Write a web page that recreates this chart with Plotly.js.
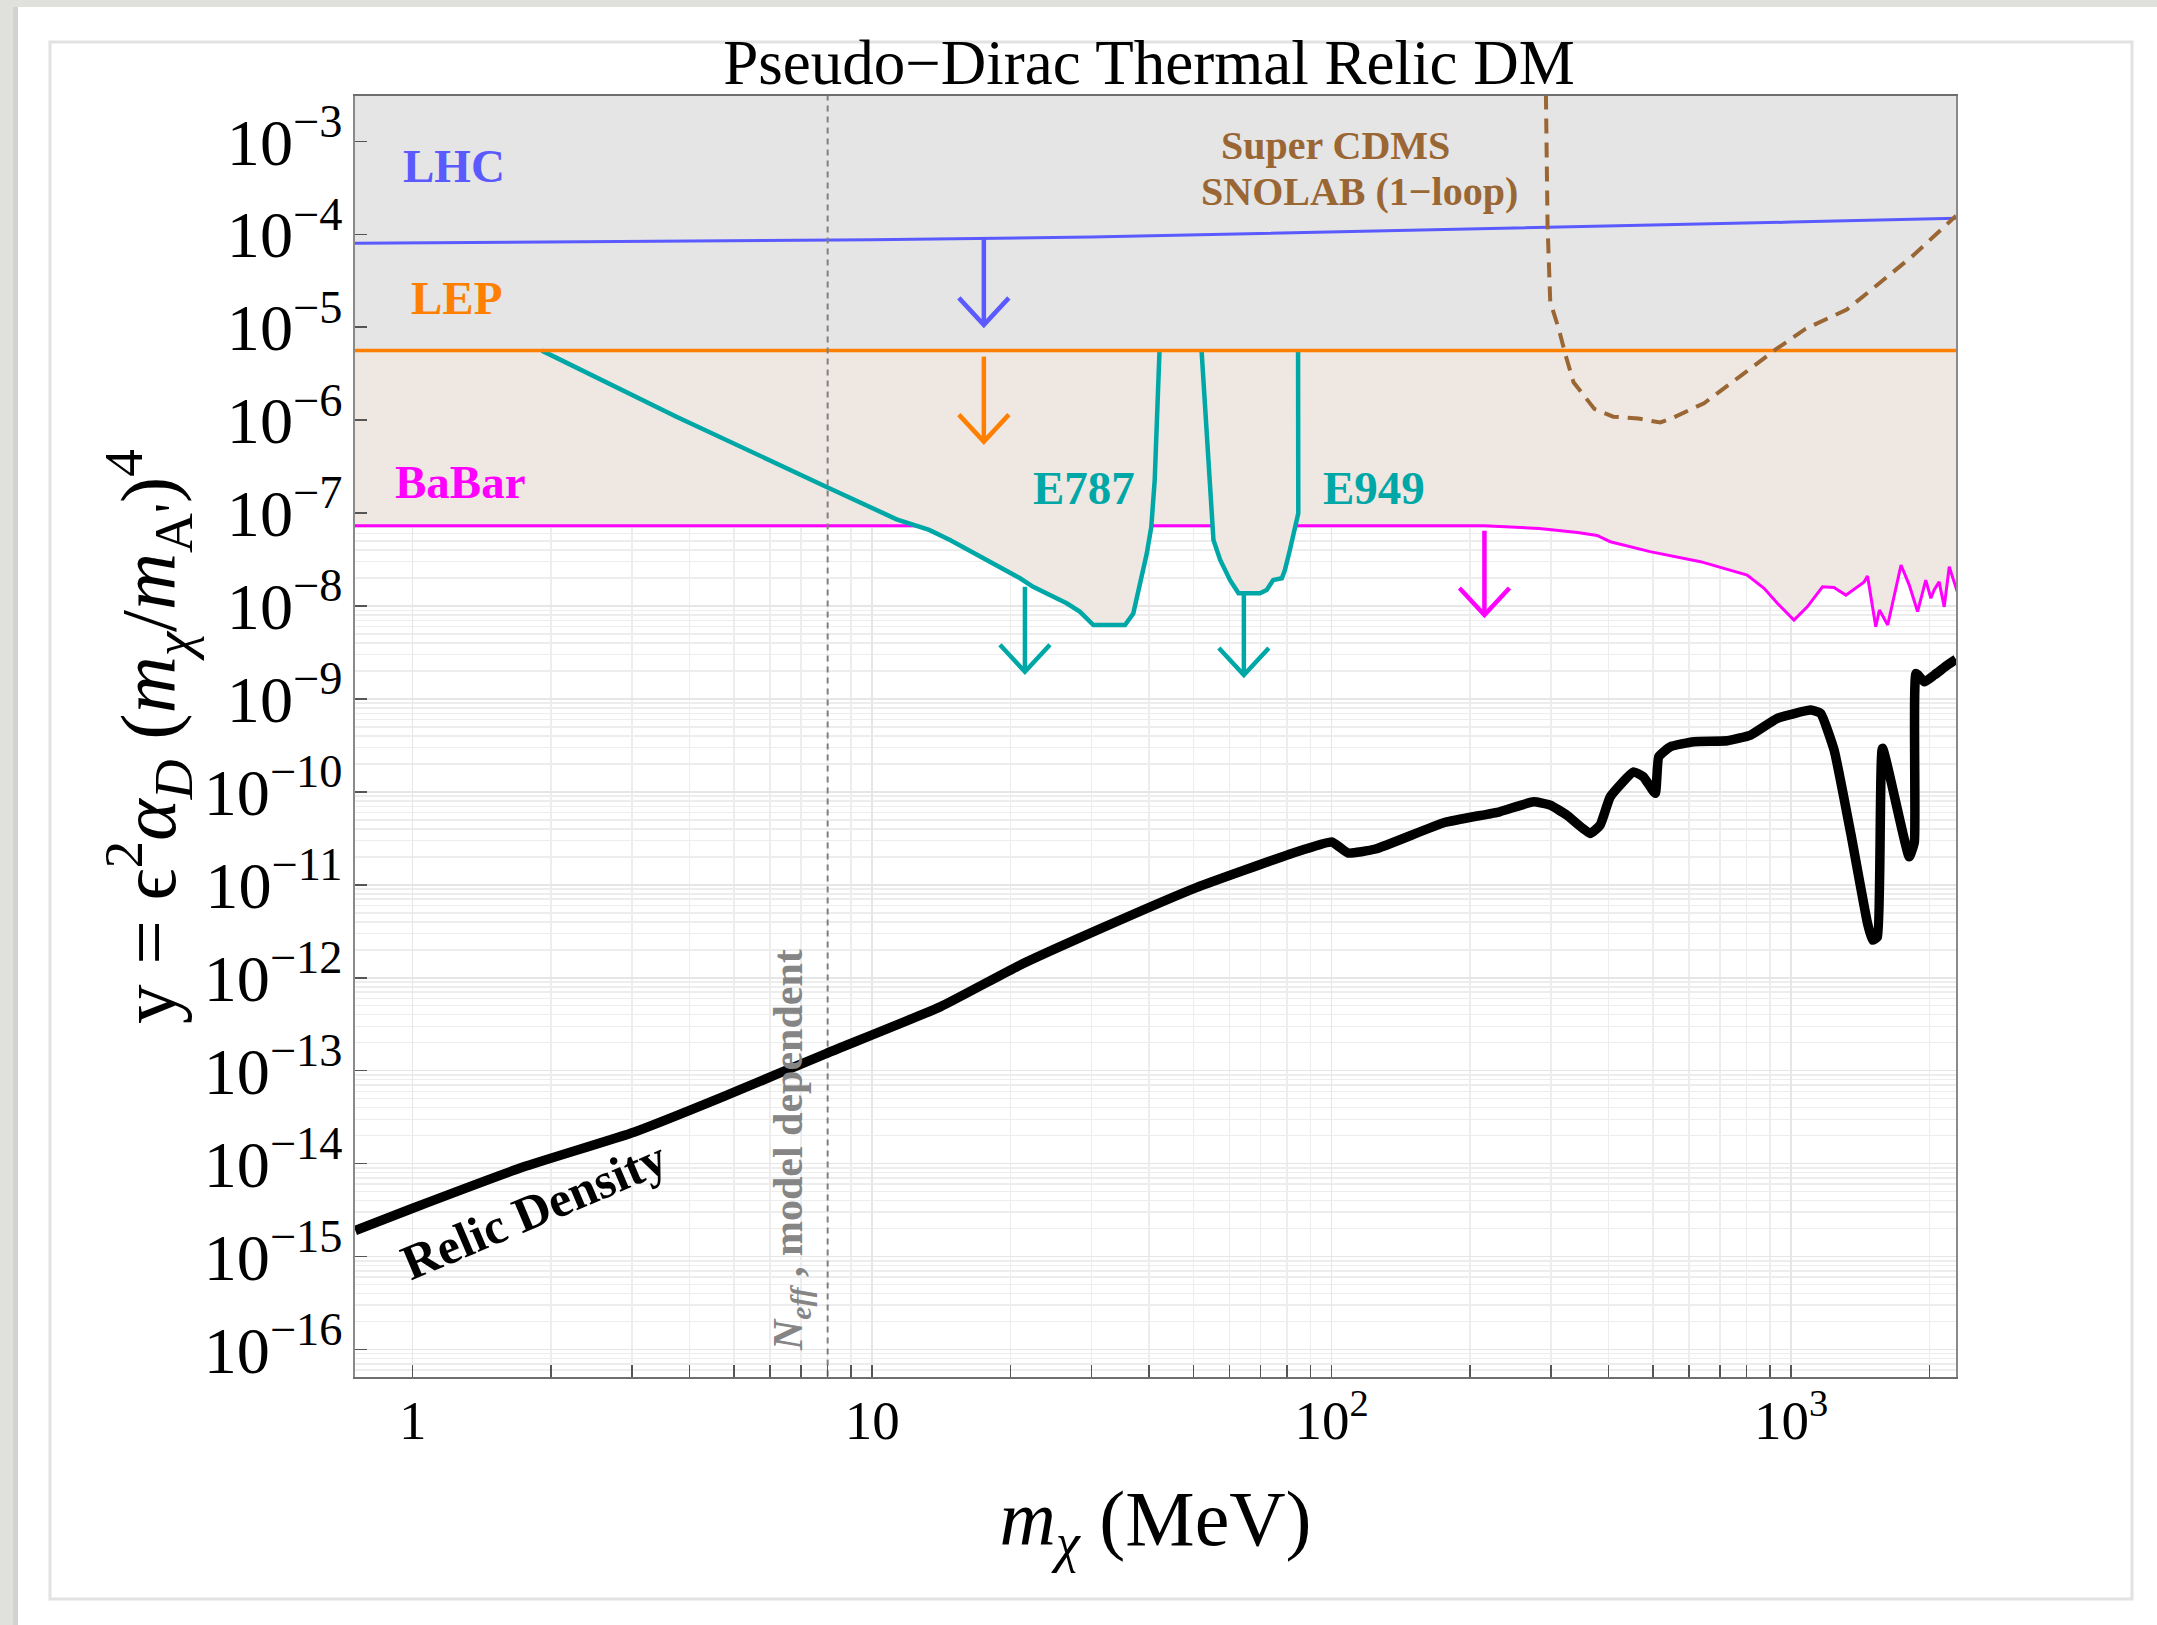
<!DOCTYPE html>
<html><head><meta charset="utf-8">
<script src="https://cdn.plot.ly/plotly-3.0.1.min.js"></script>
<style>html,body{margin:0;padding:0;background:#fff;} #chart{width:2157px;height:1625px;}</style>
</head><body><div id="chart"></div>
<script>
// ---------------- data ----------------
const lhcX = [0.7, 1, 3, 10, 30, 100, 300, 1000, 2400];
const lhcY = [8.0e-5, 8.09e-5, 8.41e-5, 8.71e-5, 9.33e-5, 1.057e-4, 1.186e-4, 1.352e-4, 1.50e-4];

const lepX = [0.7, 2400];
const lepY = [5.6e-6, 5.6e-6];

const babarX = [0.7, 215, 283, 343, 378, 404, 493, 635, 802, 873, 933, 1014, 1084, 1170, 1239, 1315, 1442, 1466, 1528, 1556, 1622, 1734, 1807, 1884, 1963, 2014, 2047, 2099, 2153, 2208, 2300];
const babarY = [7.3e-8, 7.3e-8, 6.82e-8, 6.19e-8, 5.75e-8, 4.92e-8, 3.85e-8, 3.0e-8, 2.15e-8, 1.55e-8, 1.07e-8, 7.06e-9, 9.8e-9, 1.61e-8, 1.58e-8, 1.31e-8, 1.82e-8, 2.1e-8, 5.98e-9, 9.05e-9, 6.25e-9, 2.76e-8, 1.68e-8, 8.7e-9, 1.9e-8, 1.21e-8, 1.49e-8, 1.82e-8, 9.8e-9, 2.65e-8, 1.41e-8];

const e787X = [1.91, 3.75, 7.98, 11.3, 13.3, 14.77, 20.98, 22.4, 26.5, 28.3, 30.3, 35.5, 37.0, 37.3, 38.6, 39.6, 40.5, 41.2, 42.2];
const e787Y = [5.6e-6, 1.09e-6, 1.9e-7, 8.57e-8, 6.6e-8, 5.13e-8, 1.99e-8, 1.61e-8, 1.07e-8, 8.7e-9, 6.25e-9, 6.25e-9, 8.3e-9, 9.8e-9, 2.07e-8, 3.69e-8, 7.14e-8, 2.27e-7, 5.6e-6];

const e949X = [52.1, 54.4, 55.3, 57.2, 60.1, 62.7, 69.8, 72.2, 74.6, 77.9, 79.1, 81.1, 82.5, 84.6, 84.5];
const e949Y = [5.6e-6, 2.27e-7, 5.13e-8, 3.13e-8, 1.9e-8, 1.37e-8, 1.37e-8, 1.49e-8, 1.9e-8, 1.99e-8, 2.44e-8, 4.0e-8, 5.57e-8, 9.95e-8, 5.6e-6];

const cdmsX = [292.6, 295, 299, 312, 323, 336, 373, 410, 465, 519, 548, 646, 783, 924, 1076, 1322, 1560, 1838, 2285];
const cdmsY = [3.2e-3, 1.25e-4, 1.87e-5, 9.64e-6, 4.97e-6, 2.56e-6, 1.32e-6, 1.09e-6, 1.04e-6, 9.44e-7, 1.04e-6, 1.52e-6, 3.09e-6, 5.73e-6, 9.64e-6, 1.55e-5, 3.01e-5, 5.85e-5, 1.58e-4];

const relicX = [0.75, 1, 1.745, 3.04, 4.73, 7.94, 14.06, 20.8, 31.4, 50.9, 82.5, 100, 108.6, 124.6, 176, 232, 275, 299, 325, 365, 384, 404, 454, 477, 506, 515, 546, 614, 726, 816, 933, 1103, 1159, 1240, 1348, 1466, 1503, 1541, 1580, 1807, 1854, 1870, 1950, 2049, 2191, 2285];
const relicY = [1.905e-15, 3.31e-15, 9.23e-15, 2.19e-14, 5.22e-14, 1.53e-13, 4.86e-13, 1.34e-12, 3.37e-12, 9.38e-12, 2.2e-11, 2.89e-11, 2.2e-11, 2.43e-11, 4.68e-11, 6.11e-11, 7.82e-11, 7.21e-11, 5.62e-11, 3.57e-11, 4.4e-11, 8.85e-11, 1.64e-10, 1.45e-10, 9.64e-11, 2.39e-10, 3.06e-10, 3.47e-10, 3.55e-10, 4.09e-10, 6.18e-10, 7.59e-10, 7.0e-10, 2.82e-10, 3.57e-11, 3.84e-12, 2.54e-12, 2.75e-12, 2.94e-10, 2.0e-11, 2.9e-11, 1.88e-9, 1.53e-9, 1.81e-9, 2.32e-9, 2.67e-9];

const neffMass = 8.0;   // N_eff bound (MeV)

// downward "excluded" arrows: x position, start, tip
const arrowX   = [17.5, 17.5, 21.5, 64.4, 215];
const arrowTop = [9.0e-5, 4.83e-6, 1.61e-8, 1.37e-8, 6.46e-8];
const arrowTip = [1.06e-5, 5.87e-7, 1.96e-9, 1.81e-9, 8.0e-9];

// x-axis major ticks and labels
const xTickVals = [1, 10, 100, 1000];
const xTickText = ['1', '10', '10<sup>2</sup>', '10<sup>3</sup>'];

// ---------------- styling / layout ----------------
const W = 2157, H = 1625;
const PL = 355, PR = 1956, PT = 96, PB = 1377;
const xRange = [Math.log10(0.749), Math.log10(2284)];
const yRange = [-16.296, -2.512];
const px2x = p => (p - PL) / (PR - PL);
const py2y = p => (PB - p) / (PB - PT);
const pxPerDecX = (PR - PL) / (xRange[1] - xRange[0]);
const pxPerDecY = (PB - PT) / (yRange[1] - yRange[0]);

const FONT = 'Liberation Serif, "Times New Roman", Times, serif';
const C = {lhc:'#5a5aff', lep:'#ff8000', babar:'#ff00ff', teal:'#00a7a7', cdms:'#9a6634',
           gray:'#e5e5e5', beige:'#efe7e1', neff:'#858585'};
const arrowColor = [C.lhc, C.lep, C.teal, C.teal, C.babar];

const traces = [];
const base = {type:'scatter', mode:'lines', hoverinfo:'skip', showlegend:false};
// gray excluded region (above LEP)
traces.push(Object.assign({}, base, {x:lepX, y:[1e-2, 1e-2], line:{width:0}}));
traces.push(Object.assign({}, base, {x:lepX, y:lepY, line:{width:0}, fill:'tonexty', fillcolor:C.gray}));
// beige region between LEP and BaBar, plus BaBar line
traces.push(Object.assign({}, base, {x:babarX, y:babarY, line:{width:3, color:C.babar}, fill:'tonexty', fillcolor:C.beige}));
// E787 / E949
traces.push(Object.assign({}, base, {x:e787X, y:e787Y, line:{width:4.5, color:C.teal}, fill:'toself', fillcolor:C.beige}));
traces.push(Object.assign({}, base, {x:e949X, y:e949Y, line:{width:4.5, color:C.teal}, fill:'toself', fillcolor:C.beige}));
// LHC, LEP lines
traces.push(Object.assign({}, base, {x:lhcX, y:lhcY, line:{width:3, color:C.lhc}}));
traces.push(Object.assign({}, base, {x:lepX, y:lepY, line:{width:3.5, color:C.lep}}));
// Super CDMS dashed
traces.push(Object.assign({}, base, {x:cdmsX, y:cdmsY, line:{width:4, color:C.cdms, dash:'15px,9px'}}));
// N_eff dotted line
traces.push(Object.assign({}, base, {x:[neffMass, neffMass], y:[1e-17, 1e-2], line:{width:2, color:'#808080', dash:'6px,5px'}}));
// relic density
traces.push(Object.assign({}, base, {x:relicX, y:relicY, line:{width:9.5, color:'#000', shape:'spline', smoothing:0.4}}));
// arrows
const armDx = Math.pow(10, 25 / pxPerDecX), armDy = Math.pow(10, 27 / pxPerDecY);
arrowX.forEach((ax, i) => {
  traces.push(Object.assign({}, base, {
    x:[ax, ax, null, ax / armDx, ax, ax * armDx],
    y:[arrowTop[i], arrowTip[i], null, arrowTip[i] * armDy, arrowTip[i], arrowTip[i] * armDy],
    line:{width:4.5, color:arrowColor[i]}
  }));
});

function lab(text, px, py, color, size, extra) {
  return Object.assign({text, xref:'paper', yref:'paper', x:px2x(px), y:py2y(py),
    xanchor:'center', yanchor:'middle', showarrow:false,
    font:{family:FONT, size, color, weight:'bold'}}, extra || {});
}
const annotations = [
  lab('LHC', 454, 166, C.lhc, 47),
  lab('LEP', 456, 298, C.lep, 47),
  lab('BaBar', 460, 482, C.babar, 47),
  lab('E787', 1084, 488, C.teal, 47),
  lab('E949', 1374, 488, C.teal, 47),
  lab('Super CDMS', 1335, 145, C.cdms, 40),
  lab('SNOLAB (1\u2212loop)', 1359, 192, C.cdms, 40),
  lab('Relic Density', 534, 1210, '#000', 50, {textangle:-23}),
  lab('<i>N</i><sub><i>eff</i></sub> , model dependent', 791, 1150, C.neff, 42, {textangle:-90})
];

const shapes = [
  {type:'rect', xref:'paper', yref:'paper', x0:px2x(0), x1:px2x(18), y0:py2y(H), y1:py2y(0), fillcolor:'#e0e0dc', line:{width:0}, layer:'below'},
  {type:'rect', xref:'paper', yref:'paper', x0:px2x(13), x1:px2x(18), y0:py2y(H), y1:py2y(0), fillcolor:'#d2d2ce', line:{width:0}, layer:'below'},
  {type:'rect', xref:'paper', yref:'paper', x0:px2x(0), x1:px2x(W), y0:py2y(7), y1:py2y(0), fillcolor:'#e0e0dc', line:{width:0}, layer:'below'},
  {type:'rect', xref:'paper', yref:'paper', x0:px2x(50), x1:px2x(2132), y0:py2y(1599), y1:py2y(42), fillcolor:'rgba(0,0,0,0)', line:{width:3, color:'#e2e2e2'}, layer:'below'}
];

const minorX = [];
for (let d = 0; d <= 3; d++) for (let k = 2; k <= 9; k++) { const v = k * Math.pow(10, d); if (v < 2284) minorX.push(v); }

const layout = {
  width:W, height:H,
  margin:{l:PL, r:W - PR, t:PT, b:H - PB, pad:0},
  paper_bgcolor:'#ffffff', plot_bgcolor:'#ffffff',
  font:{family:FONT, color:'#000'},
  title:{text:'Pseudo\u2212Dirac Thermal Relic DM', font:{family:FONT, size:63, color:'#000'},
         x:1149 / W, xanchor:'center', xref:'container', y:1 - 62 / H, yanchor:'middle', yref:'container'},
  xaxis:{type:'log', range:xRange, tickmode:'array', tickvals:xTickVals, ticktext:xTickText, automargin:false,
         showline:true, mirror:true, linecolor:'#6e6e6e', linewidth:2,
         ticks:'inside', ticklen:12, tickwidth:1.5, tickcolor:'#555', ticklabelstandoff:-6,
         showgrid:true, gridcolor:'#e6e6e6', gridwidth:1.5, zeroline:false,
         tickfont:{family:FONT, size:55, color:'#000'},
         minor:{tickvals:minorX, ticks:'inside', ticklen:12, tickwidth:1.5, tickcolor:'#555', showgrid:true, gridcolor:'#ededed', gridwidth:1.5},
         title:{text:'<i>m</i><sub><i>\u03c7</i></sub> (MeV)', font:{family:FONT, size:78, color:'#000'}, standoff:40}},
  yaxis:{type:'log', range:yRange, dtick:1, exponentformat:'power', automargin:false,
         showline:true, mirror:true, linecolor:'#8a8a8a', linewidth:2,
         ticks:'inside', ticklen:12, tickwidth:1.5, tickcolor:'#555',
         showgrid:true, gridcolor:'#e6e6e6', gridwidth:1.5, zeroline:false,
         tickfont:{family:FONT, size:53, color:'#000'},
         minor:{dtick:'D1', ticks:'', showgrid:true, gridcolor:'#ededed', gridwidth:1.5},
         title:{text:"y = \u03f5<sup>2</sup><i>\u03b1</i><sub><i>D</i></sub> (<i>m</i><sub><i>\u03c7</i></sub>/<i>m</i><sub>A'</sub>)<sup>4</sup>\u00a0\u00a0",
                font:{family:FONT, size:79, color:'#000'}, standoff:0}},
  shapes, annotations
};

Plotly.newPlot('chart', traces, layout, {staticPlot:true, displayModeBar:false});
</script>
</body></html>
